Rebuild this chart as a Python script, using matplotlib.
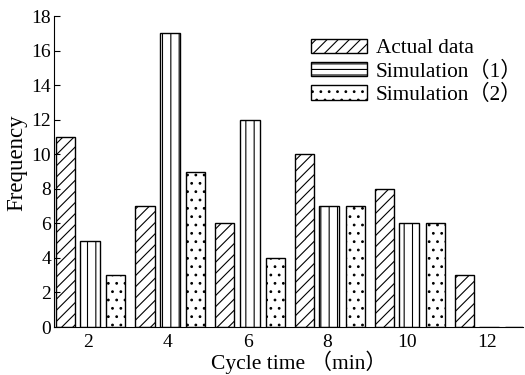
import matplotlib
matplotlib.use("Agg")
import matplotlib.pyplot as plt
from matplotlib.patches import Patch
import numpy as np

plt.rcParams['font.family'] = ['Liberation Serif', 'Noto Sans CJK JP', 'DejaVu Serif']
plt.rcParams['hatch.linewidth'] = 0.8

groups = [2, 4, 6, 8, 10, 12]
actual = [11, 7, 6, 10, 8, 3]
sim1 = [5, 17, 12, 7, 6, 0]
sim2 = [3, 9, 4, 7, 6, 0]
labels = ["Actual data", "Simulation（1）", "Simulation（2）"]
xticks = [2, 4, 6, 8, 10, 12]
yticks = list(range(0, 19, 2))

fig = plt.figure(figsize=(5.25, 3.75), dpi=100)
ax = fig.add_axes([0.103, 0.128, 0.893, 0.829])

x = np.array(groups, dtype=float)
w = 0.48
ax.bar(x - 0.57, actual, width=w, facecolor='white', edgecolor='black', hatch='///', linewidth=1.0)
ax.bar(x + 0.05, sim1, width=w + 0.02, facecolor='white', edgecolor='black', hatch='||', linewidth=1.0)
ax.bar(x + 0.70, sim2, width=w, facecolor='white', edgecolor='black', hatch='..', linewidth=1.0)

ax.set_xlim(1.15, 12.9)
ax.set_ylim(0, 18)
ax.set_xticks(xticks)
ax.set_yticks(yticks)
ax.tick_params(axis='x', length=0, labelsize=14, pad=5)
ax.tick_params(axis='y', direction='in', length=4, labelsize=14, pad=2)
for s in ['top', 'right']:
    ax.spines[s].set_visible(False)

fig.text(299 / 525, 6 / 375, "Cycle time （min）", fontsize=15.5, ha='center', va='baseline')
ax.set_ylabel("Frequency", fontsize=16.5)
ax.yaxis.set_label_coords(-0.058, 0.527)

handles = [
    Patch(facecolor='white', edgecolor='black', hatch='///'),
    Patch(facecolor='white', edgecolor='black', hatch='---'),
    Patch(facecolor='white', edgecolor='black', hatch='..'),
]
ax.legend(handles, labels, loc='upper left', bbox_to_anchor=(0.53, 0.955), frameon=False,
          fontsize=15.3, handlelength=2.65, handleheight=0.66, handletextpad=0.4,
          labelspacing=0.15, borderaxespad=0)

fig.savefig("out.png", dpi=100)
